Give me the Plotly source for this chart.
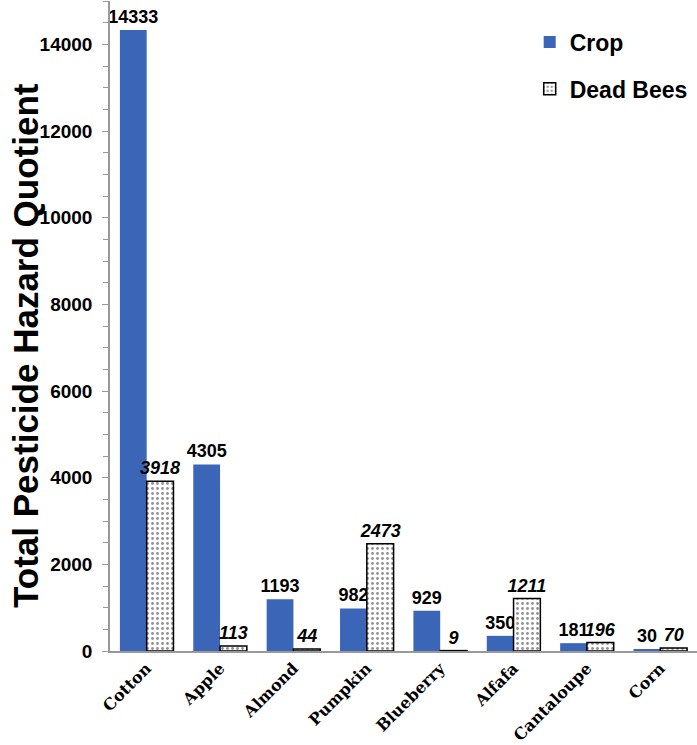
import plotly.graph_objects as go

categories = ["Cotton", "Apple", "Almond", "Pumpkin", "Blueberry", "Alfafa", "Cantaloupe", "Corn"]
crop_values = [14333, 4305, 1193, 982, 929, 350, 181, 30]
dead_bees_values = [3918, 113, 44, 2473, 9, 1211, 196, 70]
y_ticks = [0, 2000, 4000, 6000, 8000, 10000, 12000, 14000]

W, H = 697, 745
ML, MR, MT, MB = 110, 0, 1, 94
PW, PH = W - ML - MR, H - MT - MB

fig = go.Figure()
fig.add_trace(go.Bar(
    x=categories, y=crop_values, name="Crop", legendgroup="a",
    marker=dict(color="#3B66B8", line=dict(width=0)),
    text=[str(v) for v in crop_values], textposition="outside",
    textfont=dict(family="Liberation Sans, Arial", size=18, color="black", weight="bold"),
    constraintext="none", cliponaxis=False,
))
fig.add_trace(go.Bar(
    x=categories, y=dead_bees_values, name="Dead Bees", legendgroup="b",
    marker=dict(color="white", line=dict(color="black", width=1.5),
                pattern=dict(shape=".", fgcolor="#222222", bgcolor="white", size=5, solidity=0.25)),
    text=[str(v) for v in dead_bees_values], textposition="outside",
    textfont=dict(family="Liberation Sans, Arial", size=18, color="black", weight="bold", style="italic"),
    constraintext="none", cliponaxis=False,
))

fig.add_annotation(
    text="Total Pesticide Hazard Quotient", textangle=-90,
    xref="paper", yref="paper",
    x=(25 - ML) / PW, y=1 - (346 - MT) / PH,
    xanchor="center", yanchor="middle", showarrow=False,
    font=dict(family="Liberation Sans, Arial", size=35, color="black", weight="bold"),
)

fig.update_layout(
    width=W, height=H,
    margin=dict(l=ML, r=MR, t=MT, b=MB, autoexpand=False),
    paper_bgcolor="white", plot_bgcolor="white",
    barmode="group", bargap=0.27, bargroupgap=0,
    showlegend=True,
    legend=dict(x=0.715, y=0.97, xanchor="left", yanchor="top",
                font=dict(family="Liberation Sans, Arial", size=23, color="black", weight="bold"),
                traceorder="grouped", tracegroupgap=14, itemwidth=30,
                bgcolor="rgba(0,0,0,0)"),
    xaxis=dict(
        showline=True, linecolor="#999999", linewidth=1.5, ticks="",
        tickangle=-45, automargin=False,
        tickfont=dict(family="DejaVu Serif", size=16, color="black", weight="bold"),
        showgrid=False,
    ),
    yaxis=dict(
        range=[0, 15000], tickvals=y_ticks, ticktext=[str(v) for v in y_ticks],
        showline=True, linecolor="#999999", linewidth=1.5, automargin=False,
        ticks="outside", ticklen=6, tickcolor="#999999", tickwidth=1,
        minor=dict(dtick=500, ticks="outside", ticklen=5, tickcolor="#999999", tickwidth=1, showgrid=False),
        tickfont=dict(family="Liberation Sans, Arial", size=19, color="black", weight="bold"),
        ticklabelstandoff=6,
        showgrid=False, zeroline=False,
    ),
)

fig.write_html("out.html", config={"displayModeBar": False},
               post_script="document.body.style.margin='0';")
